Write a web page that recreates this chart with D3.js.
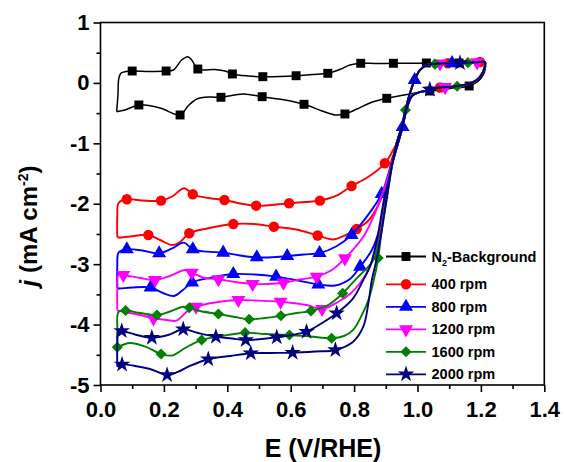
<!DOCTYPE html>
<html>
<head>
<meta charset="utf-8">
<script src="https://cdn.jsdelivr.net/npm/d3@7"></script>
<style>
  body { margin: 0; background: #fff; }
  svg { display: block; }
  text { font-family: Arial, "Liberation Sans", sans-serif; font-weight: bold; fill: #000; }
</style>
</head>
<body>
<svg id="chart" width="564" height="462"></svg>
<script>
// axis ticks
const xTicks = [0, 0.2, 0.4, 0.6, 0.8, 1.0, 1.2, 1.4];
const xMinor = [0.1, 0.3, 0.5, 0.7, 0.9, 1.1, 1.3];
const yTicks = [-5, -4, -3, -2, -1, 0, 1];
const yMinor = [-4.5, -3.5, -2.5, -1.5, -0.5, 0.5];

const names = ["N2-Background", "400 rpm", "800 rpm", "1200 rpm", "1600 rpm", "2000 rpm"];
const colors = ["#000000", "#ff0000", "#0000ff", "#ff00ff", "#008000", "#000080"];

// N2 background loop, [E, j]
const n2Loop = [[0.051,-0.476],[0.055,-0.200],[0.058,0.081],[0.065,0.164],[0.080,0.189],[0.100,0.197],[0.156,0.189],[0.207,0.197],[0.230,0.214],[0.256,0.379],[0.275,0.434],[0.288,0.379],[0.307,0.230],[0.361,0.222],[0.393,0.197],[0.416,0.148],[0.465,0.115],[0.512,0.103],[0.566,0.106],[0.617,0.119],[0.667,0.139],[0.717,0.159],[0.756,0.225],[0.787,0.297],[0.821,0.325],[0.872,0.321],[0.924,0.325],[0.976,0.325],[1.028,0.330],[1.080,0.330],[1.131,0.330],[1.191,0.346],[1.213,0.338],[1.213,0.214],[1.203,0.098],[1.188,0.015],[1.163,-0.051],[1.103,-0.092],[1.039,-0.134],[0.976,-0.183],[0.903,-0.255],[0.850,-0.332],[0.809,-0.432],[0.771,-0.514],[0.740,-0.530],[0.699,-0.465],[0.642,-0.354],[0.582,-0.283],[0.510,-0.228],[0.450,-0.183],[0.380,-0.238],[0.345,-0.233],[0.304,-0.266],[0.276,-0.382],[0.251,-0.531],[0.188,-0.415],[0.121,-0.365],[0.077,-0.448]];
const n2Marks = [[0.100,0.197],[0.207,0.197],[0.307,0.230],[0.416,0.148],[0.512,0.103],[0.617,0.119],[0.717,0.159],[0.821,0.325],[0.924,0.325],[1.028,0.330],[1.131,0.330],[1.163,-0.051],[1.039,-0.134],[0.903,-0.255],[0.771,-0.514],[0.642,-0.354],[0.510,-0.228],[0.380,-0.238],[0.251,-0.531],[0.121,-0.365]];

// shared steep part + anodic loop of all ORR curves
const topLoop = [[0.934,-0.999],[0.950,-0.725],[0.962,-0.448],[0.976,-0.172],[0.991,0.048],[1.008,0.214],[1.030,0.297],[1.071,0.321],[1.134,0.330],[1.197,0.346],[1.213,0.346],[1.211,0.247],[1.203,0.148],[1.187,0.048],[1.159,-0.018],[1.118,-0.059],[1.071,-0.076],[1.030,-0.125],[1.002,-0.159],[0.983,-0.216],[0.965,-0.448],[0.953,-0.730],[0.937,-1.027]];

// 400 rpm
const r400Up = [[0.053,-2.555],[0.053,-2.186],[0.057,-1.987],[0.083,-1.926],[0.131,-1.946],[0.191,-1.949],[0.226,-1.880],[0.264,-1.744],[0.291,-1.843],[0.339,-1.905],[0.391,-1.938],[0.440,-1.996],[0.491,-2.032],[0.541,-2.020],[0.595,-1.992],[0.645,-1.971],[0.692,-1.949],[0.746,-1.863],[0.792,-1.706],[0.844,-1.557],[0.897,-1.330],[0.918,-1.160]];
const r400Down = [[0.920,-1.243],[0.904,-1.640],[0.875,-2.037],[0.844,-2.285],[0.808,-2.418],[0.771,-2.525],[0.733,-2.592],[0.685,-2.525],[0.617,-2.426],[0.547,-2.380],[0.484,-2.335],[0.419,-2.335],[0.339,-2.406],[0.280,-2.489],[0.251,-2.633],[0.226,-2.683],[0.188,-2.600],[0.151,-2.517],[0.093,-2.542],[0.058,-2.558]];
const r400Marks = [[0.083,-1.926],[0.191,-1.949],[0.291,-1.843],[0.391,-1.938],[0.491,-2.032],[0.595,-1.992],[0.692,-1.949],[0.792,-1.706],[0.897,-1.330],[0.808,-2.418],[0.685,-2.525],[0.547,-2.380],[0.419,-2.335],[0.280,-2.489],[0.151,-2.517],[1.096,0.325],[1.071,-0.076],[1.197,0.346]];

// 800 rpm
const r800Up = [[0.053,-3.399],[0.053,-3.014],[0.057,-2.807],[0.083,-2.754],[0.131,-2.774],[0.185,-2.820],[0.226,-2.740],[0.263,-2.644],[0.291,-2.754],[0.336,-2.793],[0.387,-2.810],[0.440,-2.856],[0.493,-2.886],[0.541,-2.886],[0.589,-2.865],[0.642,-2.840],[0.691,-2.815],[0.743,-2.707],[0.792,-2.517],[0.840,-2.214],[0.887,-1.838],[0.907,-1.524],[0.924,-1.243]];
const r800Down = [[0.921,-1.309],[0.901,-1.855],[0.882,-2.380],[0.856,-2.765],[0.819,-3.042],[0.787,-3.245],[0.740,-3.353],[0.687,-3.336],[0.623,-3.270],[0.554,-3.207],[0.487,-3.171],[0.419,-3.163],[0.352,-3.220],[0.289,-3.303],[0.260,-3.427],[0.232,-3.527],[0.197,-3.477],[0.158,-3.386],[0.099,-3.386],[0.058,-3.403]];
const r800Marks = [[0.083,-2.754],[0.185,-2.820],[0.291,-2.754],[0.387,-2.810],[0.493,-2.886],[0.589,-2.865],[0.691,-2.815],[0.792,-2.517],[0.887,-1.838],[0.819,-3.042],[0.687,-3.336],[0.554,-3.207],[0.419,-3.163],[0.289,-3.303],[0.158,-3.386],[1.109,0.327],[0.991,0.048],[0.953,-0.730]];

// 1200 rpm
const r1200Up = [[0.053,-3.758],[0.053,-3.427],[0.057,-3.171],[0.072,-3.179],[0.125,-3.229],[0.172,-3.262],[0.219,-3.196],[0.267,-3.096],[0.288,-3.141],[0.330,-3.229],[0.372,-3.250],[0.424,-3.295],[0.480,-3.328],[0.528,-3.328],[0.577,-3.307],[0.629,-3.254],[0.682,-3.207],[0.730,-3.097],[0.771,-2.903],[0.829,-2.545],[0.861,-2.214],[0.882,-1.938],[0.904,-1.607],[0.923,-1.276]];
const r1200Down = [[0.920,-1.358],[0.898,-2.020],[0.875,-2.600],[0.850,-3.042],[0.819,-3.311],[0.787,-3.494],[0.749,-3.626],[0.699,-3.742],[0.650,-3.676],[0.568,-3.621],[0.497,-3.604],[0.435,-3.593],[0.361,-3.634],[0.301,-3.704],[0.272,-3.786],[0.240,-3.935],[0.209,-3.924],[0.167,-3.896],[0.125,-3.841],[0.072,-3.786],[0.055,-3.767]];
const r1200Marks = [[0.072,-3.179],[0.172,-3.262],[0.288,-3.141],[0.372,-3.250],[0.480,-3.328],[0.577,-3.307],[0.682,-3.207],[0.771,-2.903],[0.699,-3.742],[0.568,-3.621],[0.435,-3.593],[0.301,-3.704],[0.167,-3.896],[1.071,0.321],[1.188,0.340],[1.087,-0.070]];

// 1600 rpm
const r1600Up = [[0.053,-4.376],[0.053,-4.089],[0.057,-3.791],[0.079,-3.767],[0.125,-3.808],[0.178,-3.841],[0.219,-3.783],[0.261,-3.704],[0.280,-3.722],[0.314,-3.775],[0.372,-3.825],[0.424,-3.874],[0.469,-3.912],[0.519,-3.891],[0.569,-3.853],[0.620,-3.808],[0.664,-3.775],[0.718,-3.676],[0.764,-3.482],[0.808,-3.234],[0.840,-3.068],[0.861,-2.931],[0.879,-2.600],[0.897,-2.104],[0.910,-1.690],[0.923,-1.276]];
const r1600Down = [[0.920,-1.358],[0.901,-1.938],[0.885,-2.517],[0.876,-2.898],[0.860,-3.311],[0.845,-3.593],[0.829,-3.791],[0.797,-4.089],[0.768,-4.189],[0.729,-4.227],[0.661,-4.197],[0.596,-4.172],[0.519,-4.156],[0.456,-4.134],[0.383,-4.189],[0.319,-4.255],[0.267,-4.387],[0.226,-4.511],[0.191,-4.487],[0.140,-4.362],[0.093,-4.305]];
const r1600Marks = [[0.079,-3.767],[0.178,-3.841],[0.280,-3.722],[0.372,-3.825],[0.469,-3.912],[0.569,-3.853],[0.664,-3.775],[0.764,-3.482],[0.876,-2.898],[0.729,-4.227],[0.596,-4.172],[0.456,-4.134],[0.319,-4.255],[0.191,-4.487],[0.053,-4.376],[1.055,0.310],[1.159,0.335],[1.125,-0.055],[0.962,-0.448]];

// 2000 rpm
const r2000Up = [[0.053,-4.697],[0.053,-4.338],[0.057,-4.106],[0.067,-4.106],[0.109,-4.164],[0.162,-4.217],[0.213,-4.172],[0.261,-4.078],[0.308,-4.139],[0.364,-4.200],[0.415,-4.230],[0.458,-4.255],[0.509,-4.238],[0.556,-4.210],[0.604,-4.172],[0.650,-4.117],[0.699,-3.974],[0.745,-3.813],[0.797,-3.565],[0.829,-3.262],[0.850,-3.042],[0.872,-2.600],[0.894,-1.938],[0.909,-1.607],[0.923,-1.276]];
const r2000Down = [[0.920,-1.358],[0.902,-1.938],[0.885,-2.517],[0.869,-2.964],[0.856,-3.262],[0.845,-3.647],[0.829,-4.035],[0.797,-4.283],[0.741,-4.420],[0.677,-4.445],[0.606,-4.465],[0.535,-4.470],[0.474,-4.475],[0.409,-4.520],[0.340,-4.574],[0.282,-4.685],[0.244,-4.784],[0.210,-4.834],[0.156,-4.735],[0.109,-4.685],[0.068,-4.660]];
const r2000Marks = [[0.067,-4.106],[0.162,-4.217],[0.261,-4.078],[0.364,-4.200],[0.458,-4.255],[0.556,-4.210],[0.650,-4.117],[0.745,-3.813],[0.741,-4.420],[0.606,-4.465],[0.474,-4.475],[0.340,-4.574],[0.210,-4.834],[0.068,-4.660],[1.134,0.330],[1.039,-0.110]];

const svg = d3.select("#chart");
const W = 564, H = 462;
const margin = { left: 100.5, right: W - 544.3, top: 22.5, bottom: H - 385 };

const x = d3.scaleLinear().domain([0, 1.4]).range([margin.left, W - margin.right]);
const y = d3.scaleLinear().domain([-5, 1]).range([H - margin.bottom, margin.top]);

// symbols
const sym = (type, size) => d3.symbol().type(type).size(size)();
const markerOf = [
    { d: sym(d3.symbolSquare, 80), rot: 0 },
    { d: sym(d3.symbolCircle, 85), rot: 0 },
    { d: sym(d3.symbolTriangle, 85), rot: 0 },
    { d: sym(d3.symbolTriangle, 85), rot: 180 },
    { d: sym(d3.symbolSquare, 62), rot: 45 },
    { d: sym(d3.symbolStar, 85), rot: 0 }
];

const closeLoop = pts => pts.concat([pts[0]]);
const series = [
    { loop: closeLoop(n2Loop), marks: n2Marks },
    { loop: closeLoop(r400Up.concat(topLoop, r400Down)), marks: r400Marks },
    { loop: closeLoop(r800Up.concat(topLoop, r800Down)), marks: r800Marks },
    { loop: closeLoop(r1200Up.concat(topLoop, r1200Down)), marks: r1200Marks },
    { loop: closeLoop(r1600Up.concat(topLoop, r1600Down)), marks: r1600Marks },
    { loop: closeLoop(r2000Up.concat(topLoop, r2000Down)), marks: r2000Marks }
];

const line = d3.line()
    .x(d => x(d[0]))
    .y(d => y(d[1]))
    .curve(d3.curveCatmullRom.alpha(0.5));

const plot = svg.append("g");
series.forEach((s, i) => {
    let g = plot.append("g");
    g.append("path")
        .attr("d", line(s.loop))
        .attr("fill", "none")
        .attr("stroke", colors[i])
        .attr("stroke-width", i === 0 ? 1.5 : 1.9)
        .attr("stroke-linejoin", "round");
    g.selectAll("path.mk")
        .data(s.marks)
        .enter().append("path")
        .attr("class", "mk")
        .attr("d", markerOf[i].d)
        .attr("fill", colors[i])
        .attr("transform", d => `translate(${x(d[0])},${y(d[1])}) rotate(${markerOf[i].rot})`);
});

// axes
const fontTick = 22;
svg.append("g")
    .attr("transform", `translate(0,${y(-5)})`)
    .call(d3.axisBottom(x).tickValues(xTicks).tickSize(7).tickPadding(9).tickFormat(d3.format(".1f")));
svg.append("g")
    .attr("transform", `translate(0,${y(-5)})`)
    .call(d3.axisBottom(x).tickValues(xMinor).tickSize(4).tickFormat(""));
svg.append("g")
    .attr("transform", `translate(${x(0)},0)`)
    .call(d3.axisLeft(y).tickValues(yTicks).tickSize(7).tickPadding(4).tickFormat(d => String(d)));
svg.append("g")
    .attr("transform", `translate(${x(0)},0)`)
    .call(d3.axisLeft(y).tickValues(yMinor).tickSize(4).tickFormat(""));

svg.selectAll(".domain").remove();
svg.selectAll(".tick line").attr("stroke", "#000").attr("stroke-width", 1.6);
svg.selectAll(".tick text")
    .style("font-size", fontTick + "px")
    .style("font-family", "Arial, 'Liberation Sans', sans-serif")
    .style("font-weight", "bold")
    .attr("fill", "#000");

// frame
svg.append("rect")
    .attr("x", x(0)).attr("y", y(1))
    .attr("width", x(1.4) - x(0)).attr("height", y(-5) - y(1))
    .attr("fill", "none").attr("stroke", "#000").attr("stroke-width", 1.6);

// axis titles
svg.append("text")
    .attr("x", 323).attr("y", 457)
    .attr("text-anchor", "middle")
    .style("font-size", "25px")
    .text("E (V/RHE)");

const yt = svg.append("text")
    .attr("transform", "translate(36.5,226) rotate(-90)")
    .attr("text-anchor", "middle")
    .style("font-size", "24px");
yt.append("tspan").style("font-style", "italic").text("j");
yt.append("tspan").text(" (mA cm");
yt.append("tspan").attr("dy", -9).style("font-size", "14px").text("-2");
yt.append("tspan").attr("dy", 9).text(")");

// legend
const legend = svg.append("g");
names.forEach((name, i) => {
    let ly = i === 0 ? 256.5 : 284.3 + (i - 1) * 22.5;
    let row = legend.append("g").attr("transform", `translate(0,${ly})`);
    row.append("line")
        .attr("x1", 386).attr("x2", 426)
        .attr("stroke", colors[i]).attr("stroke-width", 1.8);
    row.append("path")
        .attr("d", markerOf[i].d)
        .attr("fill", colors[i])
        .attr("transform", `translate(406,0) rotate(${markerOf[i].rot})`);
    let t = row.append("text").attr("x", 431.5).attr("y", 5).style("font-size", "14.5px");
    if (i === 0) {
        t.append("tspan").text("N");
        t.append("tspan").attr("dy", 4).style("font-size", "9px").text("2");
        t.append("tspan").attr("dy", -4).text("-Background");
    } else {
        t.text(name);
    }
});
</script>
</body>
</html>
